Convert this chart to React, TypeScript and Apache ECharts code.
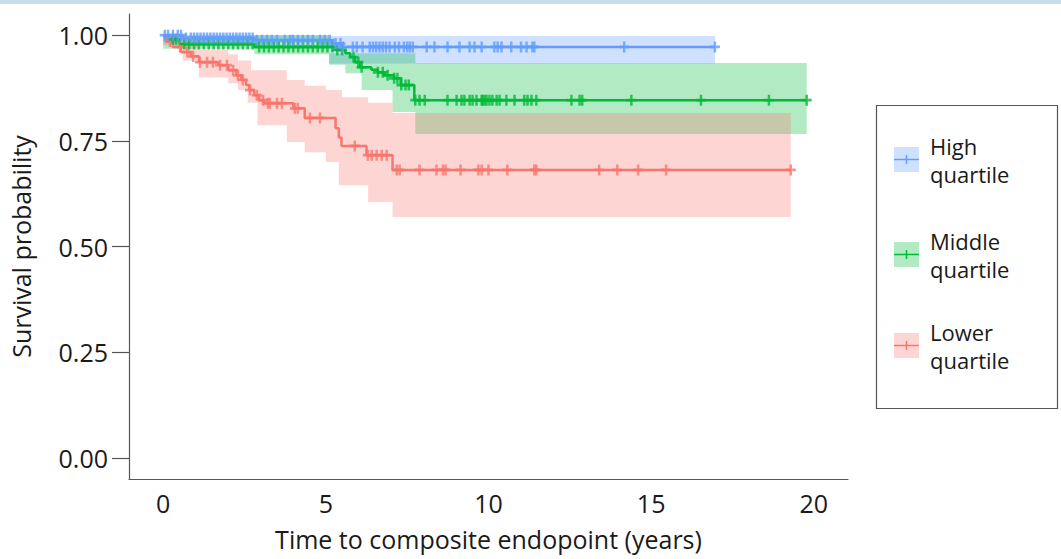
import React, { useEffect, useRef } from "react";
import * as echarts from "echarts";

const groupNames = ["High\nquartile", "Middle\nquartile", "Lower\nquartile"];
const groupColors = ["#619CFF", "#00BA38", "#F8766D"];
const bandColors = ["rgba(97,156,255,0.3)", "rgba(0,186,56,0.3)", "rgba(248,118,109,0.3)"];

const xTicks = [0, 5, 10, 15, 20];
const yTicks = [0, 0.25, 0.5, 0.75, 1];

// Kaplan-Meier steps: [time (years), survival]
const highSteps = [[0, 1], [0.6, 0.993], [2.8, 0.988], [5.2, 0.98], [5.5, 0.972], [16.96, 0.972]];
const middleSteps = [
  [0, 1], [0.3, 0.99], [0.5, 0.979], [2.8, 0.972], [5.3, 0.965], [5.6, 0.957], [5.75, 0.948],
  [5.9, 0.936], [6.05, 0.924], [6.4, 0.918], [6.6, 0.912], [6.8, 0.905], [7.1, 0.898],
  [7.3, 0.882], [7.72, 0.846], [19.78, 0.846],
];
const lowerSteps = [
  [0, 1], [0.1, 0.985], [0.3, 0.972], [0.55, 0.96], [0.85, 0.95], [1.1, 0.936], [1.7, 0.929],
  [2.0, 0.917], [2.25, 0.905], [2.4, 0.894], [2.55, 0.882], [2.65, 0.87], [2.8, 0.858],
  [2.95, 0.846], [3.1, 0.839], [4.0, 0.827], [4.35, 0.804], [5.3, 0.78], [5.4, 0.758],
  [5.48, 0.738], [6.25, 0.716], [7.05, 0.681], [19.29, 0.681],
];

// Confidence bands: [start time, lower, upper]; last entry closes the band
const highBand = [[0, 0.982, 1.0], [5.1, 0.933, 0.998], [16.96, 0.933, 0.998]];
const middleBand = [
  [0, 0.968, 1.0], [2.8, 0.955, 1.0], [5.1, 0.93, 0.957], [5.6, 0.91, 0.957], [6.1, 0.87, 0.957],
  [7.05, 0.818, 0.957], [7.75, 0.766, 0.934], [19.78, 0.766, 0.934],
];
const lowerBand = [
  [0, 0.976, 1.0], [0.6, 0.94, 0.99], [1.1, 0.9, 0.965], [2.0, 0.886, 0.955], [2.3, 0.87, 0.94],
  [2.6, 0.84, 0.94], [2.7, 0.84, 0.917], [2.9, 0.787, 0.917], [3.8, 0.747, 0.894],
  [4.35, 0.723, 0.88], [5.0, 0.7, 0.87], [5.4, 0.645, 0.87], [5.5, 0.645, 0.853],
  [6.3, 0.605, 0.84], [7.05, 0.57, 0.816], [19.29, 0.57, 0.816],
];

// Censoring times (years)
const highCensor = [
  0.05, 0.15, 0.3, 0.45, 0.55, 0.7, 0.85, 0.95, 1.05, 1.15, 1.25, 1.35, 1.45, 1.55, 1.65, 1.75,
  1.85, 1.95, 2.05, 2.15, 2.25, 2.35, 2.45, 2.55, 2.65, 2.75, 2.88, 3.04, 3.19, 3.34, 3.5, 3.74,
  3.9, 3.99, 4.14, 4.29, 4.45, 4.6, 4.82, 4.97, 5.12, 5.3, 5.45, 5.52, 5.83, 5.95, 6.13, 6.35,
  6.45, 6.55, 6.65, 6.75, 6.85, 6.96, 7.12, 7.25, 7.4, 7.5, 7.58, 7.67, 8.1, 8.34, 8.74, 9.11,
  9.42, 9.57, 9.79, 10.18, 10.28, 10.4, 10.7, 11.0, 11.17, 11.35, 11.41, 14.17, 16.96,
];
const middleCensor = [
  0.3, 0.4, 0.65, 0.8, 0.95, 1.1, 1.25, 1.4, 1.55, 1.7, 1.85, 2.0, 2.15, 2.3, 2.45, 2.6, 2.75,
  2.95, 3.1, 3.25, 3.4, 3.55, 3.7, 3.85, 4.0, 4.15, 4.3, 4.45, 4.6, 4.75, 4.9, 5.05, 5.2, 5.35,
  5.5, 5.85, 6.0, 6.1, 6.6, 6.75, 6.9, 7.1, 7.2, 7.32, 7.45, 7.55, 7.75, 7.88, 8.04, 8.74, 9.02,
  9.17, 9.26, 9.42, 9.51, 9.63, 9.79, 9.82, 9.88, 9.94, 10.03, 10.12, 10.25, 10.34, 10.55, 10.8,
  11.1, 11.2, 11.32, 11.47, 12.55, 12.8, 12.88, 14.39, 16.53, 18.62, 19.78,
];
const lowerCensor = [
  0.21, 0.52, 0.74, 0.92, 1.13, 1.35, 1.53, 1.75, 1.96, 2.15, 2.3, 2.45, 2.67, 2.88, 3.07, 3.22,
  3.28, 3.5, 3.65, 4.05, 4.14, 4.51, 4.82, 5.89, 6.29, 6.41, 6.56, 6.72, 6.87, 7.18, 7.27, 7.88,
  8.4, 8.6, 8.68, 9.14, 9.69, 9.79, 10.0, 10.58, 11.41, 11.47, 13.4, 13.96, 14.6, 15.46, 19.29,
];

const allSteps = [highSteps, middleSteps, lowerSteps];
const allBands = [highBand, middleBand, lowerBand];
const allCensor = [highCensor, middleCensor, lowerCensor];

const FONT = "'Open Sans', 'Noto Sans', sans-serif";
const PLUS =
  "path://M-2.5,-10 L2.5,-10 L2.5,-2.5 L10,-2.5 L10,2.5 L2.5,2.5 L2.5,10 L-2.5,10 L-2.5,2.5 L-10,2.5 L-10,-2.5 L-2.5,-2.5 Z";

function survAt(steps: number[][], t: number) {
  let s = steps[0][1];
  for (const p of steps) {
    if (p[0] <= t) s = p[1];
  }
  return s;
}

export default function App() {
  const ref = useRef<HTMLDivElement>(null);
  useEffect(() => {
    const chart = echarts.init(ref.current!, null, { renderer: "svg" });
    const series: any[] = [];

    // bands
    series.push({
      type: "custom",
      z: 1,
      silent: true,
      data: [[0, 0], [1, 0], [2, 0]],
      encode: { x: 0, y: 1 },
      renderItem: (params: any, api: any) => {
        const band = allBands[params.dataIndex];
        const upper: number[][] = [];
        const lower: number[][] = [];
        for (let i = 0; i < band.length - 1; i++) {
          const [t0, lo, hi] = band[i];
          const t1 = band[i + 1][0];
          upper.push(api.coord([t0, hi]), api.coord([t1, hi]));
          lower.push(api.coord([t0, lo]), api.coord([t1, lo]));
        }
        const points = upper.concat(lower.reverse());
        return {
          type: "polygon",
          shape: { points },
          style: { fill: bandColors[params.dataIndex] },
        };
      },
    });

    // curves (draw lower, middle, high so high is on top)
    [2, 1, 0].forEach((g) => {
      series.push({
        type: "line",
        name: groupNames[g],
        step: "end",
        data: allSteps[g],
        showSymbol: false,
        z: 3,
        lineStyle: { color: groupColors[g], width: 2.5 },
        itemStyle: { color: groupColors[g] },
      });
      series.push({
        type: "scatter",
        data: allCensor[g].map((t) => [t, survAt(allSteps[g], t)]),
        symbol: PLUS,
        symbolSize: [10, 11],
        z: 4,
        itemStyle: { color: groupColors[g] },
      });
    });

    const legendItems: any[] = [];
    const keyYs = [147, 242, 333];
    keyYs.forEach((ky, g) => {
      legendItems.push(
        { type: "rect", shape: { x: 894, y: ky, width: 25, height: 25 }, style: { fill: bandColors[g] } },
        { type: "line", shape: { x1: 894, y1: ky + 12.5, x2: 919, y2: ky + 12.5 }, style: { stroke: groupColors[g], lineWidth: 1.5 } },
        { type: "line", shape: { x1: 906.5, y1: ky + 8, x2: 906.5, y2: ky + 17 }, style: { stroke: groupColors[g], lineWidth: 1.5 } },
        {
          type: "text",
          x: 930,
          y: ky + 13,
          style: {
            text: groupNames[g],
            font: `22px ${FONT}`,
            fill: "#1a1a1a",
            lineHeight: 28,
            verticalAlign: "middle",
            align: "left",
          },
        }
      );
    });

    chart.setOption({
      animation: false,
      grid: { left: 129, right: 213, top: 14, bottom: 80 },
      xAxis: {
        type: "value",
        min: -1.05,
        max: 21.05,
        name: "Time to composite endopoint (years)",
        nameLocation: "middle",
        nameGap: 47,
        nameTextStyle: { fontSize: 25, color: "#1a1a1a", fontFamily: FONT },
        axisLine: { onZero: false, lineStyle: { color: "#555", width: 1.2 } },
        axisTick: { show: false },
        splitLine: { show: false },
        axisLabel: {
          customValues: xTicks,
          fontSize: 25,
          color: "#1a1a1a",
          fontFamily: FONT,
          margin: 11,
        },
      },
      yAxis: {
        type: "value",
        min: -0.05,
        max: 1.05,
        name: "Survival probability",
        nameLocation: "middle",
        nameGap: 96,
        nameTextStyle: { fontSize: 25, color: "#1a1a1a", fontFamily: FONT },
        axisLine: { show: true, onZero: false, lineStyle: { color: "#555", width: 1.2 } },
        axisTick: { show: true, customValues: yTicks, length: 17, lineStyle: { color: "#555", width: 1.2 } },
        splitLine: { show: false },
        axisLabel: {
          customValues: yTicks,
          formatter: (v: number) => v.toFixed(2),
          fontSize: 25,
          color: "#1a1a1a",
          fontFamily: FONT,
          margin: 21,
        },
      },
      graphic: [
        { type: "rect", shape: { x: 0, y: 0, width: 1061, height: 4 }, style: { fill: "#c9dcec" }, z: 100 },
        {
          type: "rect",
          shape: { x: 876.5, y: 105.5, width: 181, height: 303 },
          style: { fill: "#fff", stroke: "#555", lineWidth: 1.2 },
        },
        ...legendItems,
      ],
      series,
    });
    return () => chart.dispose();
  }, []);
  return (
    <div
      ref={ref}
      style={{ position: "fixed", left: 0, top: 0, width: 1061, height: 559, background: "#fff" }}
    />
  );
}
